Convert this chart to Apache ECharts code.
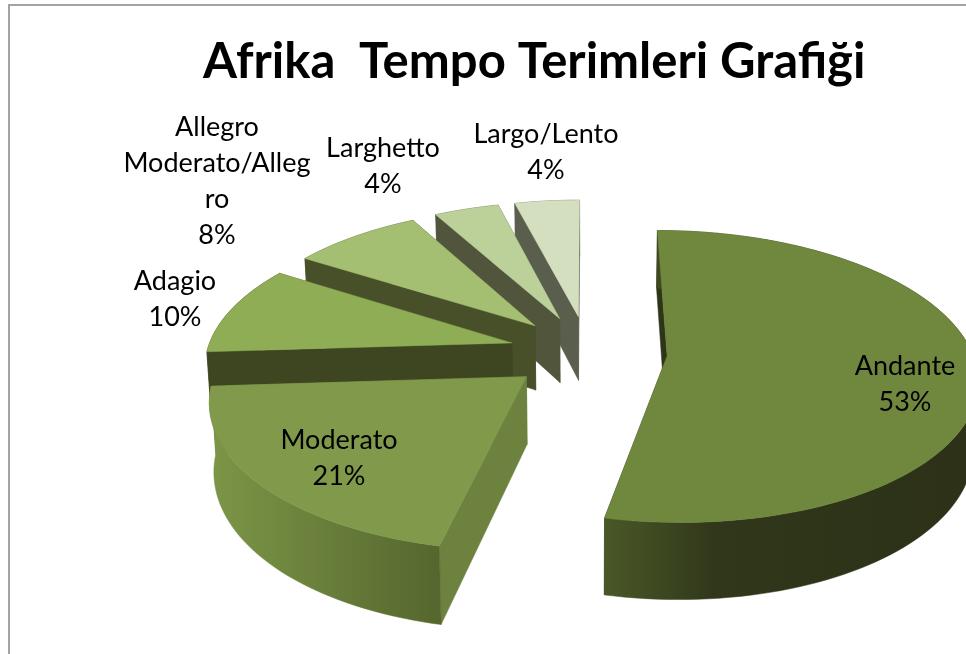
<!DOCTYPE html>
<html><head><meta charset="utf-8">
<style>html,body{margin:0;padding:0;background:#fff}#c{width:966px;height:654px}</style>
<script src="https://cdn.jsdelivr.net/npm/echarts@6/dist/echarts.min.js"></script>
</head><body><div id="c"></div>
<script>
const titleText = 'Afrika  Tempo Terimleri Grafiği';
const categories = ['Andante', 'Moderato', 'Adagio', 'Allegro\nModerato/Alleg\nro', 'Larghetto', 'Largo/Lento'];
const values = [53.4, 20.6, 10, 8, 4, 4];

// Appearance and layout, kept apart from the data
const topColors = ['#70883e', '#80994a', '#8fad54', '#a4bf72', '#bcd09a', '#d4dfbf'];
const cutColors = ['#2f3519', '#6c823e', '#3d4521', '#475029', '#50553c', '#5a5e4c'];
const rimStops = [
  [[0, '#4a5827'], [0.3, '#30371a'], [1, '#2c3117']],
  [[0, '#7c9647'], [1, '#55662e']],
  [[0, '#3d4521'], [1, '#3d4521']],
  [[0, '#475029'], [1, '#475029']],
  [[0, '#50553c'], [1, '#50553c']],
  [[0, '#5a5e4c'], [1, '#5a5e4c']]
];
const labelCentres = [[905, 384], [339, 458], [175, 299], [217, 181], [383, 166], [546, 152]];
const view = { cx: 588, cy: 352, rx: 305, ry: 142, explode: 0.26, persp: 0.14, depth: 66, shrink: 0.012 };

const total = values.reduce((a, b) => a + b, 0);
const starts = [];
values.reduce((acc, v, i) => { starts[i] = acc; return acc + v; }, 0);

function project(X, Y, low) {
  const f = 1 / (1 - view.persp * Y);
  const xs = low ? 1 - view.shrink : 1;
  return [view.cx + view.rx * X * f * xs, view.cy + view.ry * Y * f + (low ? view.depth * f : 0)];
}

function renderSlice(params, api) {
  const i = api.value(0);
  const a0 = starts[i] / total * 2 * Math.PI;
  const a1 = (starts[i] + api.value(1)) / total * 2 * Math.PI;
  const mid = (a0 + a1) / 2;
  const ox = view.explode * Math.sin(mid), oy = -view.explode * Math.cos(mid);
  const steps = Math.max(6, Math.ceil((a1 - a0) / 0.03));
  const ring = low => {
    const out = [];
    for (let s = 0; s <= steps; s++) {
      const a = a0 + (a1 - a0) * s / steps;
      out.push(project(ox + Math.sin(a), oy - Math.cos(a), low));
    }
    return out;
  };
  const top = ring(false), low = ring(true);
  const apexT = project(ox, oy, false), apexL = project(ox, oy, true);
  const xs = top.concat(low).map(p => p[0]);
  const minX = Math.min(...xs), maxX = Math.max(...xs);
  const poly = (points, fill, z2) => ({
    type: 'polygon', shape: { points }, z2,
    style: { fill, stroke: fill, lineWidth: 0.5 }, silent: true
  });
  const rimFill = {
    type: 'linear', x: minX, y: 0, x2: maxX, y2: 0, global: true,
    colorStops: rimStops[i].map(s => ({ offset: s[0], color: s[1] }))
  };
  const lines = categories[i] + '\n' + Math.round(api.value(1)) + '%';
  return {
    type: 'group',
    children: [
      poly([apexT, top[top.length - 1], low[low.length - 1], apexL], cutColors[i], 1),
      poly([apexT, top[0], low[0], apexL], cutColors[i], 1),
      poly(top.concat(low.slice().reverse()), rimFill, 2),
      poly([apexT].concat(top), topColors[i], 3),
      {
        type: 'text', z2: 4, silent: true,
        x: labelCentres[i][0], y: labelCentres[i][1],
        style: {
          text: lines, fill: '#000', align: 'center', verticalAlign: 'middle',
          font: '27px Lato', lineHeight: 36
        }
      }
    ]
  };
}

const chart = echarts.init(document.getElementById('c'), null, { renderer: 'canvas' });
chart.setOption({
  animation: false,
  backgroundColor: '#fff',
  title: {
    text: titleText, left: 198, top: 33,
    textStyle: { fontFamily: 'Lato', fontWeight: 'bold', fontSize: 49, color: '#000' }
  },
  graphic: [{
    type: 'rect', silent: true, z: -1,
    shape: { x: 9, y: 5, width: 1000, height: 700 },
    style: { fill: '#fff', stroke: '#a3a3a3', lineWidth: 2 }
  }],
  series: [{
    type: 'custom',
    coordinateSystem: 'none',
    clip: false,
    renderItem: renderSlice,
    dimensions: ['index', 'value'],
    data: values.map((v, i) => [i, v]).reverse()
  }]
});
</script></body></html>
